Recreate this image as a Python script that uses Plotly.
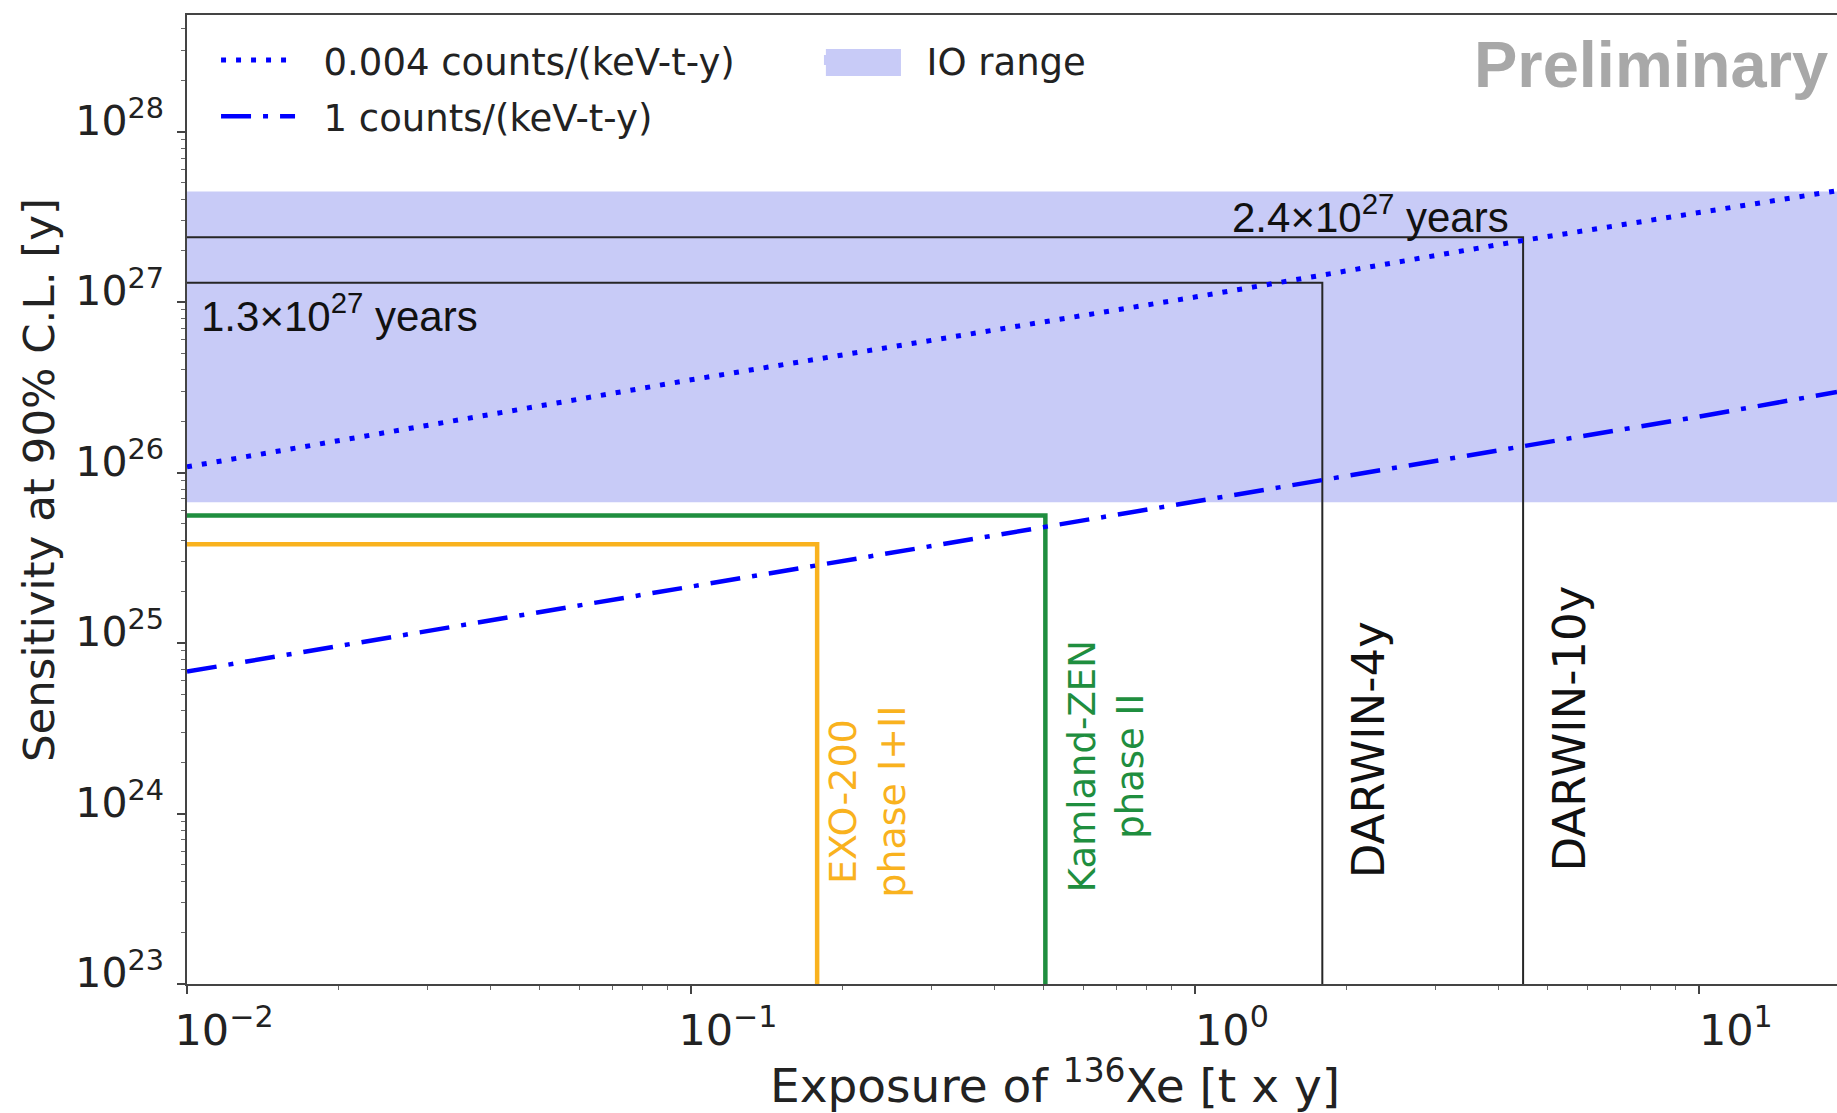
import numpy as np
import plotly.graph_objects as go

# Axis limits: exposure [t x y] and half-life sensitivity [y]
X_LIMITS = [0.01, 18.8]
Y_LOG_RANGE = [23, 28.684]
Y_FLOOR = 1e23

# Sensitivity curves for two background levels
bkg_low_label = "0.004 counts/(keV-t-y)"
bkg_low_exposure = [0.01, 0.1, 1.0, 4.48, 18.8]
bkg_low_sens = [1.08e26, 3.5e26, 1.07e27, 2.3e27, 4.5e27]

bkg_high_label = "1 counts/(keV-t-y)"
bkg_high_exposure = [0.01, 0.1, 1.0, 10.0, 18.8]
bkg_high_sens = [6.8e24, 2.15e25, 6.7e25, 2.13e26, 2.97e26]

# Inverted-ordering half-life range
io_label = "IO range"
io_range = [6.7e25, 4.45e27]

# Existing experiments: exposure and sensitivity
exo_exposure, exo_sens = 0.178, 3.8e25
kamland_exposure, kamland_sens = 0.505, 5.6e25

# DARWIN projections
darwin_names = ["DARWIN-4y", "DARWIN-10y"]
darwin_exposure = [1.79, 4.48]
darwin_sens = [1.3e27, 2.4e27]

# Tick labels
x_tickvals = [0.01, 0.1, 1, 10]
x_ticktext = ["10<sup>−2</sup>", "10<sup>−1</sup>", "10<sup>0</sup>", "10<sup>1</sup>"]
y_tickvals = [1e23, 1e24, 1e25, 1e26, 1e27, 1e28]
y_ticktext = ["10<sup>23</sup>", "10<sup>24</sup>", "10<sup>25</sup>",
              "10<sup>26</sup>", "10<sup>27</sup>", "10<sup>28</sup>"]

x_minor = [k * 10.0 ** e for e in range(-2, 2) for k in range(2, 10)]
y_minor = [k * 10.0 ** e for e in range(23, 29) for k in range(2, 10)]

BLUE = "#0000FF"
ORANGE = "#F9B21E"
GREEN = "#1F8E3F"
DARK = "#262626"
BAND = "#C8CBF7"
FONT = "DejaVu Sans"
PAD = "\u00a0\u00a0"  # gap between legend symbol and label

fig = go.Figure()

# IO band across the full exposure range
fig.add_trace(go.Scatter(
    x=[X_LIMITS[0], X_LIMITS[1], X_LIMITS[1], X_LIMITS[0]],
    y=[io_range[0], io_range[0], io_range[1], io_range[1]],
    fill="toself", fillcolor=BAND, mode="lines", line=dict(width=0),
    name=io_label, legendgroup="io", showlegend=False, hoverinfo="skip",
))
# legend entry for the band
fig.add_trace(go.Scatter(
    x=[None], y=[None], mode="lines", line=dict(color=BAND, width=10),
    name=PAD + io_label, legendgroup="io", legend="legend2",
))

# DARWIN exposure/sensitivity corners
for exp_val, sens_val, name in zip(darwin_exposure, darwin_sens, darwin_names):
    fig.add_trace(go.Scatter(
        x=[X_LIMITS[0], exp_val, exp_val], y=[sens_val, sens_val, Y_FLOOR],
        mode="lines", line=dict(color=DARK, width=2), showlegend=False, name=name,
    ))

# EXO-200 and KamLAND-Zen
fig.add_trace(go.Scatter(
    x=[X_LIMITS[0], exo_exposure, exo_exposure], y=[exo_sens, exo_sens, Y_FLOOR],
    mode="lines", line=dict(color=ORANGE, width=4.5), showlegend=False, name="EXO-200",
))
fig.add_trace(go.Scatter(
    x=[X_LIMITS[0], kamland_exposure, kamland_exposure], y=[kamland_sens, kamland_sens, Y_FLOOR],
    mode="lines", line=dict(color=GREEN, width=4.5), showlegend=False, name="Kamland-ZEN",
))

# Background-level sensitivity curves
fig.add_trace(go.Scatter(
    x=bkg_low_exposure, y=bkg_low_sens, mode="lines", name=PAD + bkg_low_label,
    line=dict(color=BLUE, width=5, dash="5px,10px"), legend="legend", legendgroup="low",
))
fig.add_trace(go.Scatter(
    x=bkg_high_exposure, y=bkg_high_sens, mode="lines", name=PAD + bkg_high_label,
    line=dict(color=BLUE, width=4.5, dash="30px,12px,5px,12px"), legend="legend",
    legendgroup="high",
))

axis_common = dict(
    type="log", showgrid=False, zeroline=False, ticks="outside",
    ticklen=8, tickwidth=1.5, tickcolor="#444",
    showline=True, linecolor="#444", linewidth=1.5,
)

fig.update_xaxes(
    **axis_common, range=[np.log10(X_LIMITS[0]), np.log10(X_LIMITS[1])],
    tickmode="array", tickvals=x_tickvals, ticktext=x_ticktext, mirror=True,
    tickfont=dict(family=FONT, size=43, color="#222"), ticklabelstandoff=0,
    ticklabelshift=37,
    minor=dict(tickmode="array", tickvals=x_minor, ticks="outside", ticklen=4,
               tickwidth=1, tickcolor="#666", showgrid=False),
)
fig.update_yaxes(
    **axis_common, range=Y_LOG_RANGE,
    tickmode="array", tickvals=y_tickvals, ticktext=y_ticktext,
    tickfont=dict(family=FONT, size=41, color="#222"), ticklabelstandoff=5,
    ticklabelshift=-11,
    minor=dict(tickmode="array", tickvals=y_minor, ticks="outside", ticklen=4,
               tickwidth=1, tickcolor="#666", showgrid=False),
)

annotations = [
    # axis titles
    dict(text="Exposure of <sup>136</sup>Xe [t x y]", xref="paper", yref="paper",
         x=0.526, y=-0.1014, xanchor="center", yanchor="middle", showarrow=False,
         font=dict(family=FONT, size=47, color="#222")),
    dict(text="Sensitivity at 90% C.L. [y]", xref="paper", yref="paper",
         x=-0.0897, y=0.52, xanchor="center", yanchor="middle", textangle=-90,
         showarrow=False, font=dict(family=FONT, size=43.5, color="#222")),
    # watermark
    dict(text="<b>Preliminary</b>", xref="paper", yref="paper", x=0.779, y=0.949,
         xanchor="left", yanchor="middle", showarrow=False,
         font=dict(family="Liberation Sans", size=65, color="#A8A8A8")),
    # experiment labels
    dict(text="EXO-200<br>phase I+II", x=np.log10(exo_exposure), y=24.07,
         xshift=50, textangle=-90, align="center", showarrow=False,
         font=dict(family=FONT, size=38, color=ORANGE)),
    dict(text="Kamland-ZEN<br>phase II", x=np.log10(kamland_exposure), y=24.28,
         xshift=61, textangle=-90, align="center", showarrow=False,
         font=dict(family=FONT, size=37, color=GREEN)),
    dict(text=darwin_names[0], x=np.log10(darwin_exposure[0]), y=24.373,
         xshift=47, textangle=-90, showarrow=False,
         font=dict(family=FONT, size=45, color="#111")),
    dict(text=darwin_names[1], x=np.log10(darwin_exposure[1]), y=24.50,
         xshift=46, textangle=-90, showarrow=False,
         font=dict(family=FONT, size=45, color="#111")),
]


def years_label(v):
    mant, expo = f"{v:.1e}".split("e")
    return f"{mant}×10<sup>{int(expo)}</sup> years"


annotations += [
    dict(text=years_label(darwin_sens[0]), x=np.log10(X_LIMITS[0]), y=26.937,
         xanchor="left", yanchor="middle", xshift=12, showarrow=False,
         font=dict(family="Liberation Sans", size=42, color="#111")),
    dict(text=years_label(darwin_sens[1]), x=np.log10(darwin_exposure[1]), y=27.5175,
         xanchor="right", yanchor="middle", xshift=-12, showarrow=False,
         font=dict(family="Liberation Sans", size=42, color="#111")),
]

# Taller swatch behind the "IO range" legend key
legend_swatch = dict(type="rect", xref="paper", yref="paper",
                     x0=0.3872, x1=0.4327, y0=0.9370, y1=0.9649,
                     fillcolor=BAND, line=dict(width=0), layer="above")

fig.update_layout(
    width=1837, height=1113,
    margin=dict(l=187, r=0, t=15, b=129),
    paper_bgcolor="white", plot_bgcolor="white",
    annotations=annotations,
    shapes=[legend_swatch],
    legend=dict(x=0.0176, y=0.985, xanchor="left", yanchor="top",
                bgcolor="rgba(0,0,0,0)", itemwidth=74, tracegroupgap=5,
                font=dict(family=FONT, size=37, color="#222")),
    legend2=dict(x=0.383, y=0.985, xanchor="left", yanchor="top",
                 bgcolor="rgba(0,0,0,0)", itemwidth=74,
                 font=dict(family=FONT, size=37, color="#222")),
    showlegend=True,
)

fig.write_html("out.html")
